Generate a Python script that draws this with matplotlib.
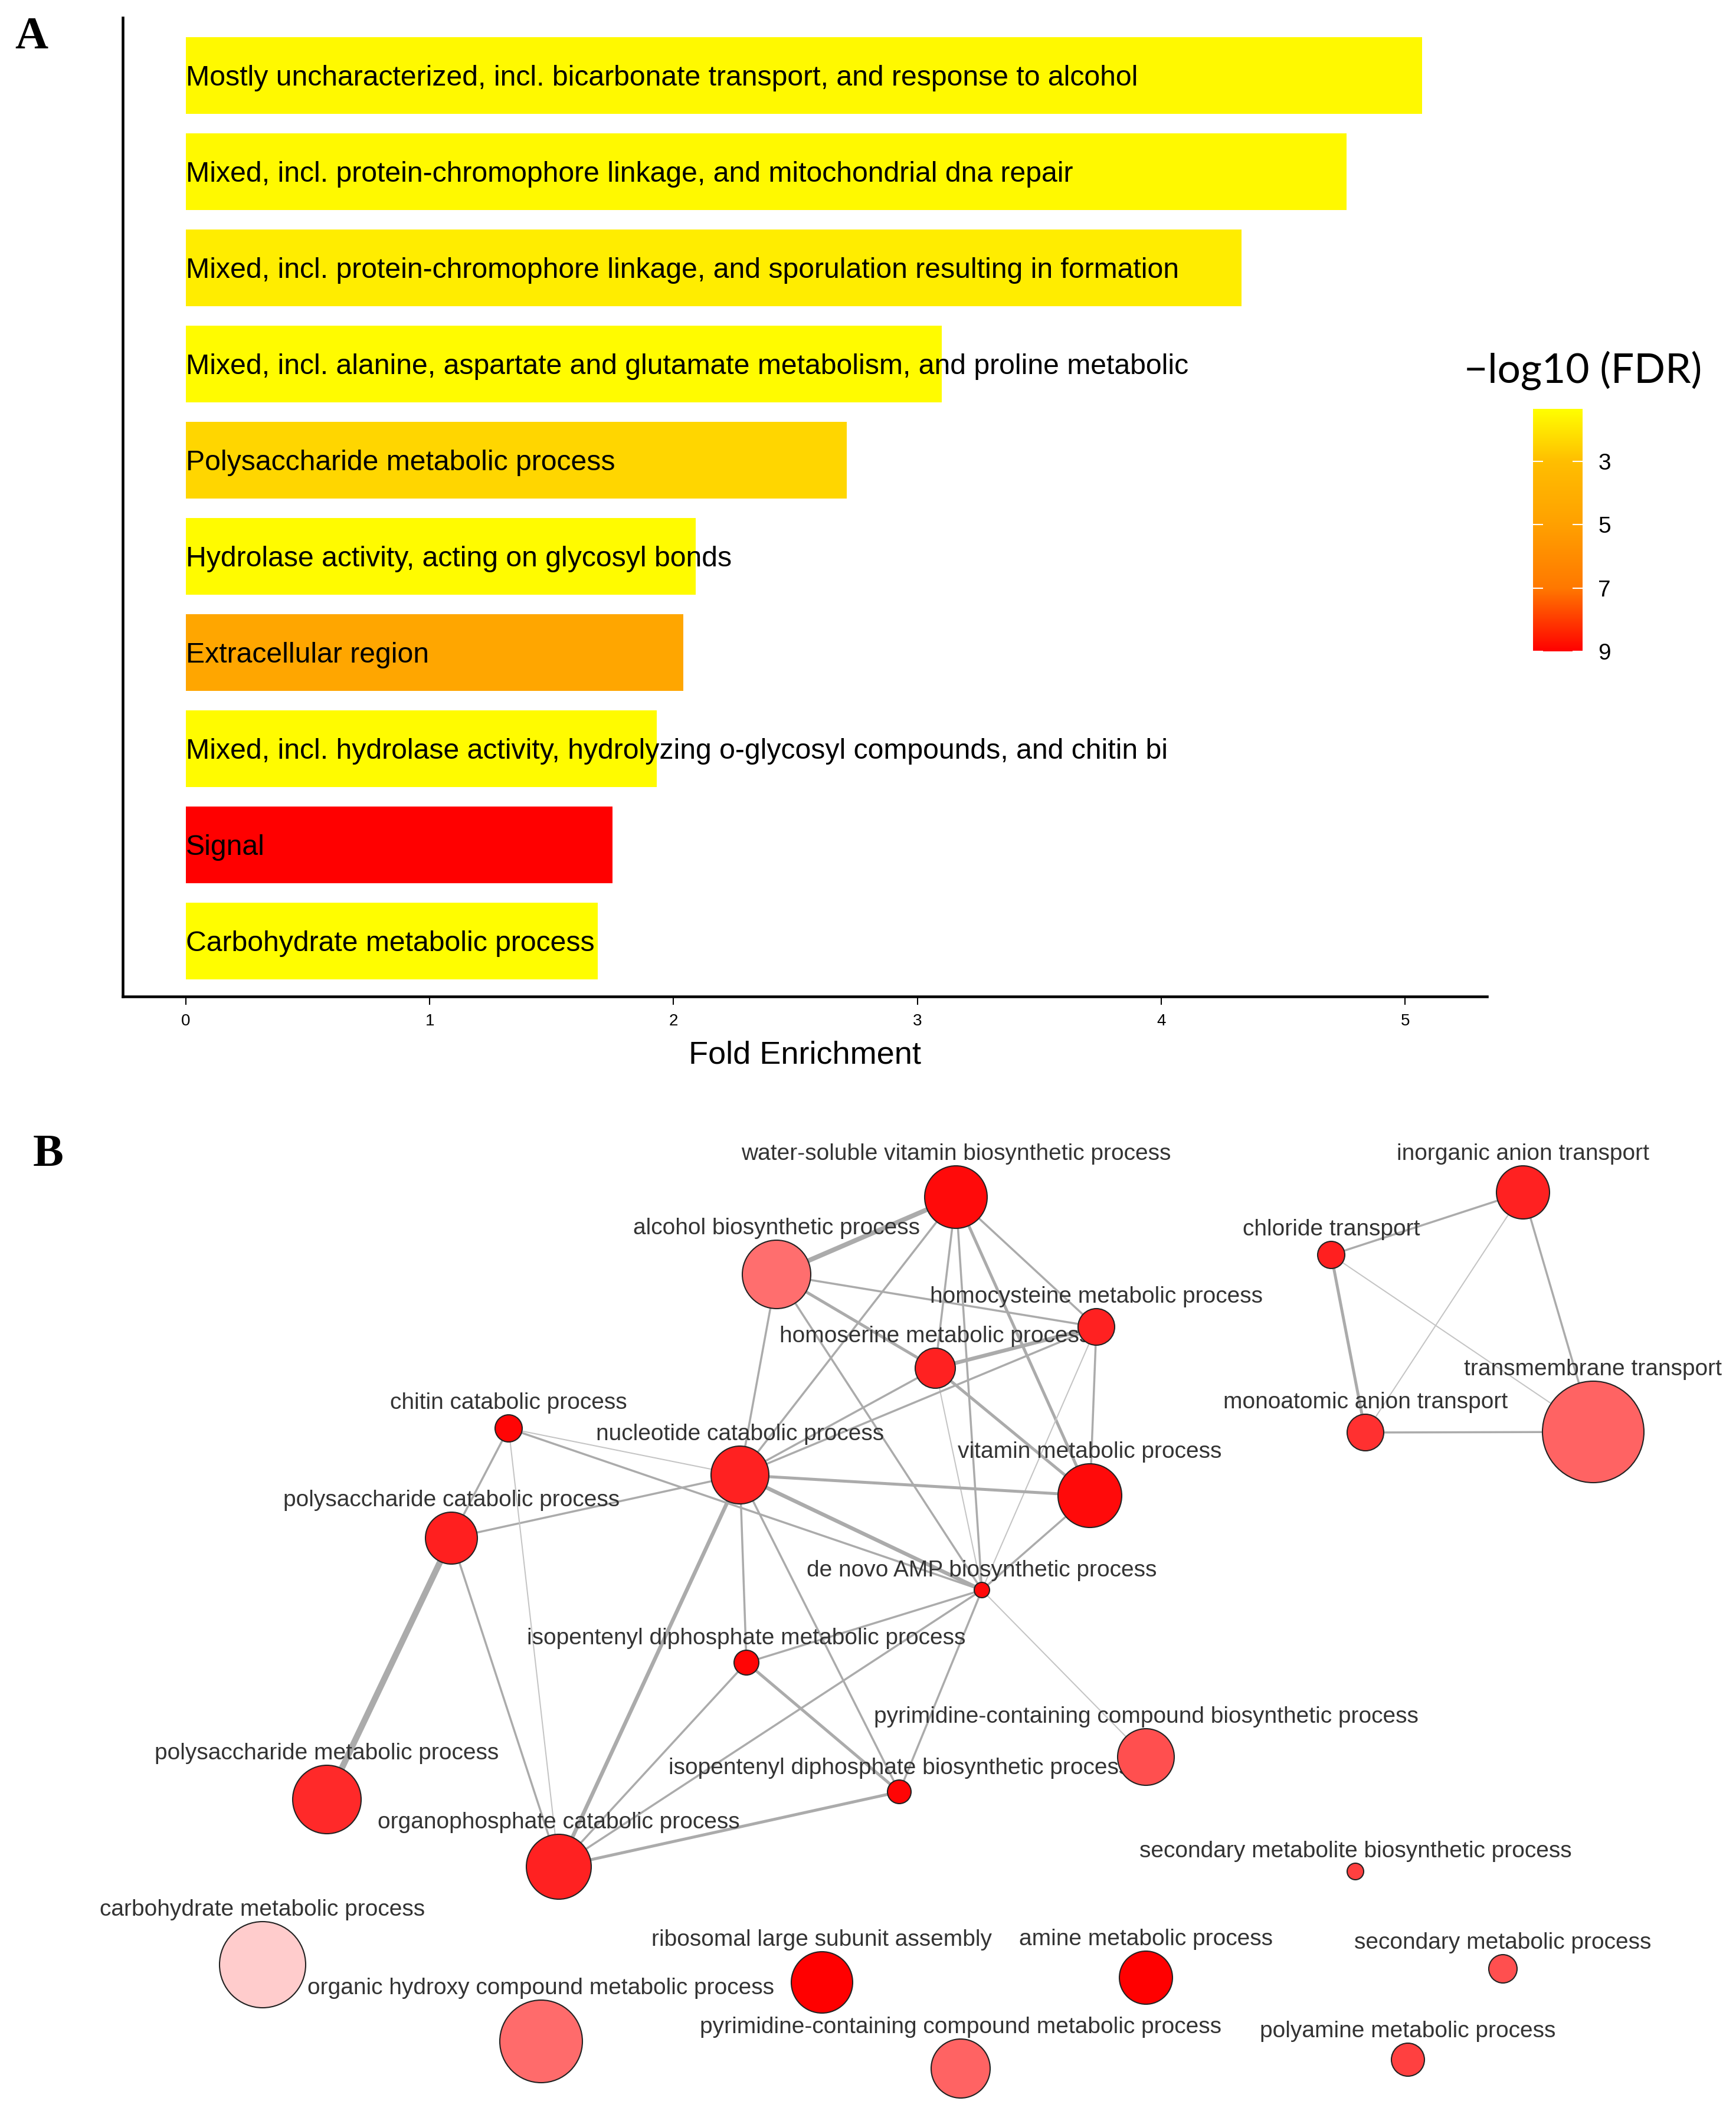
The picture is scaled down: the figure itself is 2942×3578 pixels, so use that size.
import matplotlib
matplotlib.use('Agg')
import matplotlib.pyplot as plt
from matplotlib.colors import LinearSegmentedColormap, Normalize
from matplotlib.patches import Circle
from matplotlib.cm import ScalarMappable

W, H = 2942, 3578
plt.rcParams['font.family'] = ['Liberation Sans', 'DejaVu Sans']

# ---------------- Panel A data ----------------
categories = [
    "Mostly uncharacterized, incl. bicarbonate transport, and response to alcohol",
    "Mixed, incl. protein-chromophore linkage, and mitochondrial dna repair",
    "Mixed, incl. protein-chromophore linkage, and sporulation resulting in formation",
    "Mixed, incl. alanine, aspartate and glutamate metabolism, and proline metabolic",
    "Polysaccharide metabolic process",
    "Hydrolase activity, acting on glycosyl bonds",
    "Extracellular region",
    "Mixed, incl. hydrolase activity, hydrolyzing o-glycosyl compounds, and chitin bi",
    "Signal",
    "Carbohydrate metabolic process",
]
fold_enrichment = [5.07, 4.76, 4.33, 3.10, 2.71, 2.09, 2.04, 1.93, 1.75, 1.69]
neg_log10_fdr = [1.5, 1.5, 1.8, 1.45, 2.4, 1.45, 4.6, 1.45, 9.0, 1.4]
x_ticks = [0, 1, 2, 3, 4, 5]
cbar_ticks = [3, 5, 7, 9]
cbar_range = (1.35, 9.0)

# ---------------- Panel B data ----------------
node_names = [
    "water-soluble vitamin biosynthetic process",      # 0
    "alcohol biosynthetic process",                    # 1
    "homocysteine metabolic process",                  # 2
    "homoserine metabolic process",                    # 3
    "chitin catabolic process",                        # 4
    "nucleotide catabolic process",                    # 5
    "vitamin metabolic process",                       # 6
    "polysaccharide catabolic process",                # 7
    "de novo AMP biosynthetic process",                # 8
    "isopentenyl diphosphate metabolic process",       # 9
    "pyrimidine-containing compound biosynthetic process",  # 10
    "isopentenyl diphosphate biosynthetic process",    # 11
    "polysaccharide metabolic process",                # 12
    "organophosphate catabolic process",               # 13
    "carbohydrate metabolic process",                  # 14
    "organic hydroxy compound metabolic process",      # 15
    "ribosomal large subunit assembly",                # 16
    "pyrimidine-containing compound metabolic process",  # 17
    "amine metabolic process",                         # 18
    "secondary metabolite biosynthetic process",       # 19
    "secondary metabolic process",                     # 20
    "polyamine metabolic process",                     # 21
    "inorganic anion transport",                       # 22
    "chloride transport",                              # 23
    "monoatomic anion transport",                      # 24
    "transmembrane transport",                         # 25
]
# network layout (as in the source figure)
node_x = [1620, 1316, 1858, 1585, 862, 1254, 1847, 765, 1664, 1265, 1942, 1524, 554, 947,
          445, 917, 1393, 1628, 1942, 2297, 2547, 2386, 2581, 2256, 2314, 2700]
node_y = [2029, 2160, 2249, 2319, 2421, 2500, 2535, 2607, 2695, 2818, 2978, 3037, 3050, 3164,
          3330, 3460, 3360, 3506, 3352, 3172, 3337, 3491, 2021, 2127, 2428, 2427]
node_gene_count = [53, 58, 31, 34, 23, 49, 54, 44, 13, 21, 48, 20, 58, 55,
                   73, 70, 52, 50, 45, 14, 24, 28, 45, 23, 31, 86]
node_significance = [0.96, 0.57, 0.87, 0.87, 0.98, 0.87, 0.96, 0.88, 0.96, 0.98, 0.69, 0.98, 0.84, 0.87,
                     0.20, 0.58, 1.00, 0.61, 1.00, 0.75, 0.69, 0.75, 0.87, 0.88, 0.81, 0.61]
edge_src = [0, 0, 0, 0, 0, 0, 1, 1, 1, 1, 3, 3, 3, 3, 2, 2, 2, 5, 5, 5, 5, 5, 5, 5,
            4, 4, 4, 8, 8, 8, 8, 8, 9, 9, 11, 7, 7,
            22, 22, 22, 23, 23, 24]
edge_dst = [1, 5, 3, 8, 6, 2, 2, 3, 8, 5, 2, 5, 8, 6, 5, 6, 8, 6, 8, 9, 13, 11, 7, 4,
            8, 7, 13, 6, 9, 11, 13, 10, 13, 11, 13, 12, 13,
            23, 24, 25, 24, 25, 25]
edge_weight = [5, 2, 2, 2, 3, 2, 2, 3, 2, 2, 4, 2, 1, 3, 2, 2, 1, 3, 4, 2, 4, 2, 2, 1,
               2, 2, 1, 2, 2, 2, 2, 1, 2, 3, 3, 6, 2,
               2, 1, 2, 3, 1, 2]

# ---------------- Figure ----------------
fig = plt.figure(figsize=(W / 100, H / 100), dpi=100)

# colour scale of panel A
vmin, vmax = cbar_range
def _p(v):
    return (v - vmin) / (vmax - vmin)
cmap = LinearSegmentedColormap.from_list(
    'fdr', [(0.0, '#FFFF00'), (_p(3), '#FFBE00'), (_p(5), '#FFA000'),
            (_p(7), '#FF7800'), (1.0, '#FF0000')], N=512)
norm = Normalize(vmin=vmin, vmax=vmax)

axA = fig.add_axes([208 / W, 1 - 1689 / H, (2520 - 208) / W, (1689 - 30) / H])
pos = list(range(len(categories)))[::-1]
axA.barh(pos, fold_enrichment, height=0.8, color=[cmap(norm(v)) for v in neg_log10_fdr],
         zorder=2)
for p, c in zip(pos, categories):
    axA.text(0, p, c, ha='left', va='center_baseline', fontsize=34.7, color='black',
             zorder=3, clip_on=False)
axA.set_xlim(-0.259, 5.336)
axA.set_ylim(-0.577, 9.60)
axA.set_yticks([])
axA.set_xticks(x_ticks)
axA.set_xticklabels([str(t) for t in x_ticks])
axA.tick_params(axis='x', labelsize=20, length=10, width=1.5, pad=11)
for s in ['top', 'right']:
    axA.spines[s].set_visible(False)
for s in ['left', 'bottom']:
    axA.spines[s].set_linewidth(3.3)
axA.set_xlabel('Fold Enrichment', fontsize=39, labelpad=14)

cax = fig.add_axes([2598 / W, 1 - 1104 / H, 84 / W, 411 / H])
cb = fig.colorbar(ScalarMappable(norm=norm, cmap=cmap), cax=cax)
cb.set_ticks(cbar_ticks)
cb.ax.invert_yaxis()
cb.outline.set_visible(False)
cb.ax.tick_params(which='both', direction='in', left=True, right=True, labelleft=False,
                  labelright=True, color='white', length=12, width=1.5, labelsize=28, pad=19)
cb.ax.minorticks_off()
fig.text(2683 / W, 1 - 628 / H, '\u2212log10 (FDR)', ha='center', va='center', fontsize=50,
         family=['Lato', 'DejaVu Sans'])

# ---------------- Panel B ----------------
axN = fig.add_axes([0, 0, 1, 1800 / H])
axN.set_xlim(0, W)
axN.set_ylim(H, H - 1800)
axN.axis('off')

edge_lw_px = {1: 2.0, 2: 3.5, 3: 5.0, 4: 6.5, 5: 8.0, 6: 10.5}
for s, d, w in zip(edge_src, edge_dst, edge_weight):
    col = '#C4C4C4' if w == 1 else '#ABABAB'
    axN.plot([node_x[s], node_x[d]], [node_y[s], node_y[d]], color=col,
             lw=edge_lw_px[w] / 1.389, solid_capstyle='butt', zorder=1)

for name, x, y, r in zip(node_names, node_x, node_y, node_gene_count):
    axN.text(x, y - r - 20, name, ha='center', va='center', fontsize=28,
             color='#333333', zorder=2)

for x, y, r, s in zip(node_x, node_y, node_gene_count, node_significance):
    col = (1.0, 1.0 - s, 1.0 - s)
    axN.add_patch(Circle((x, y), r, facecolor=col, edgecolor='#222222', lw=1.5, zorder=3))

# panel letters
fig.text(53 / W, 1 - 64 / H, 'A', ha='center', va='center', fontsize=56, fontweight='bold',
         family=['Liberation Serif', 'DejaVu Serif'])
fig.text(82 / W, 1 - 1958 / H, 'B', ha='center', va='center', fontsize=56, fontweight='bold',
         family=['Liberation Serif', 'DejaVu Serif'])

fig.savefig('out.png', dpi=100)
